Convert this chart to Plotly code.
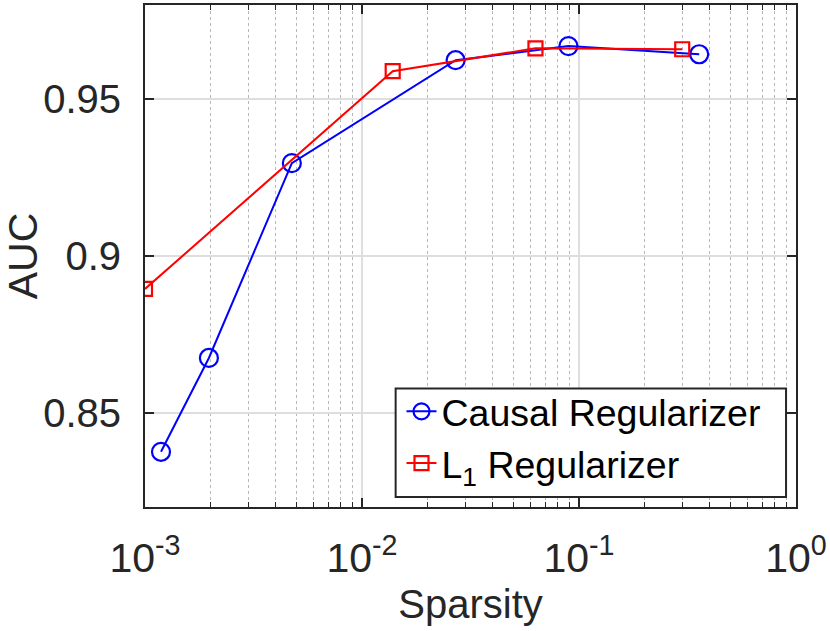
import plotly.graph_objects as go

causal_x = [1.185e-3, 1.97e-3, 4.75e-3, 0.027, 0.0894, 0.358]
causal_y = [0.8376, 0.8675, 0.9296, 0.9624, 0.9669, 0.9643]
l1_x = [1.0e-3, 0.01385, 0.063, 0.299]
l1_y = [0.8895, 0.9589, 0.9662, 0.9659]
x_tickvals = [1e-3, 1e-2, 1e-1, 1e0]
x_ticktext = ["10<sup>-3</sup>", "10<sup>-2</sup>", "10<sup>-1</sup>", "10<sup>0</sup>"]
y_tickvals = [0.85, 0.9, 0.95]
y_ticktext = ["0.85", "0.9", "0.95"]

FONT = "Liberation Sans, Arial, Helvetica, sans-serif"
AX = "#262626"

fig = go.Figure()
fig.add_trace(go.Scatter(
    x=causal_x, y=causal_y, mode="lines+markers", name="Causal Regularizer",
    line=dict(color="#0000ff", width=2),
    marker=dict(symbol="circle-open", size=18, color="#0000ff", line=dict(width=2.2)),
))
fig.add_trace(go.Scatter(
    x=l1_x, y=l1_y, mode="lines+markers", name="L<sub>1</sub> Regularizer",
    line=dict(color="#ff0000", width=2),
    marker=dict(symbol="square-open", size=14, color="#ff0000", line=dict(width=2.2)),
))

# legend frame
fig.add_shape(type="rect", xref="paper", yref="paper",
              x0=0.385, x1=0.9847, y0=0.0198, y1=0.236,
              fillcolor="white", line=dict(color=AX, width=2), layer="above")

fig.update_layout(
    width=830, height=631,
    margin=dict(l=145, r=33, t=3, b=124),
    paper_bgcolor="white", plot_bgcolor="white",
    font=dict(family=FONT, color="#262626", size=36),
    showlegend=True,
    legend=dict(
        x=0.394, y=0.252, xanchor="left", yanchor="top",
        bgcolor="rgba(0,0,0,0)", borderwidth=0,
        font=dict(family=FONT, size=37.5, color="black"),
        tracegroupgap=0,
    ),
    xaxis=dict(
        type="log", range=[-3, 0],
        tickvals=x_tickvals, ticktext=x_ticktext,
        tickfont=dict(family=FONT, size=41, color="#262626"),
        ticks="inside", ticklen=9, tickwidth=1.5, tickcolor=AX,
        ticklabelstandoff=14,
        showline=True, linecolor=AX, linewidth=2, mirror="allticks",
        showgrid=True, gridcolor="#dedede", gridwidth=1.5,
        minor=dict(ticks="inside", ticklen=5, tickwidth=1.2, tickcolor=AX,
                   showgrid=True, gridcolor="#b8b8b8", griddash="dot", gridwidth=1,
                   dtick="D1"),
        title=dict(text="Sparsity", font=dict(family=FONT, size=40, color="#262626"), standoff=10),
        zeroline=False,
    ),
    yaxis=dict(
        range=[0.82, 0.98],
        tickvals=y_tickvals, ticktext=y_ticktext,
        tickfont=dict(family=FONT, size=40, color="#262626"),
        ticks="inside", ticklen=9, tickwidth=1.5, tickcolor=AX,
        ticklabelstandoff=14,
        showline=True, linecolor=AX, linewidth=2, mirror="allticks",
        showgrid=True, gridcolor="#dedede", gridwidth=1.5,
        title=dict(text="AUC", font=dict(family=FONT, size=41, color="#262626"), standoff=4),
        zeroline=False,
    ),
)

fig.write_html("out.html", config={"displayModeBar": False},
               post_script="document.body.style.margin='0';")
